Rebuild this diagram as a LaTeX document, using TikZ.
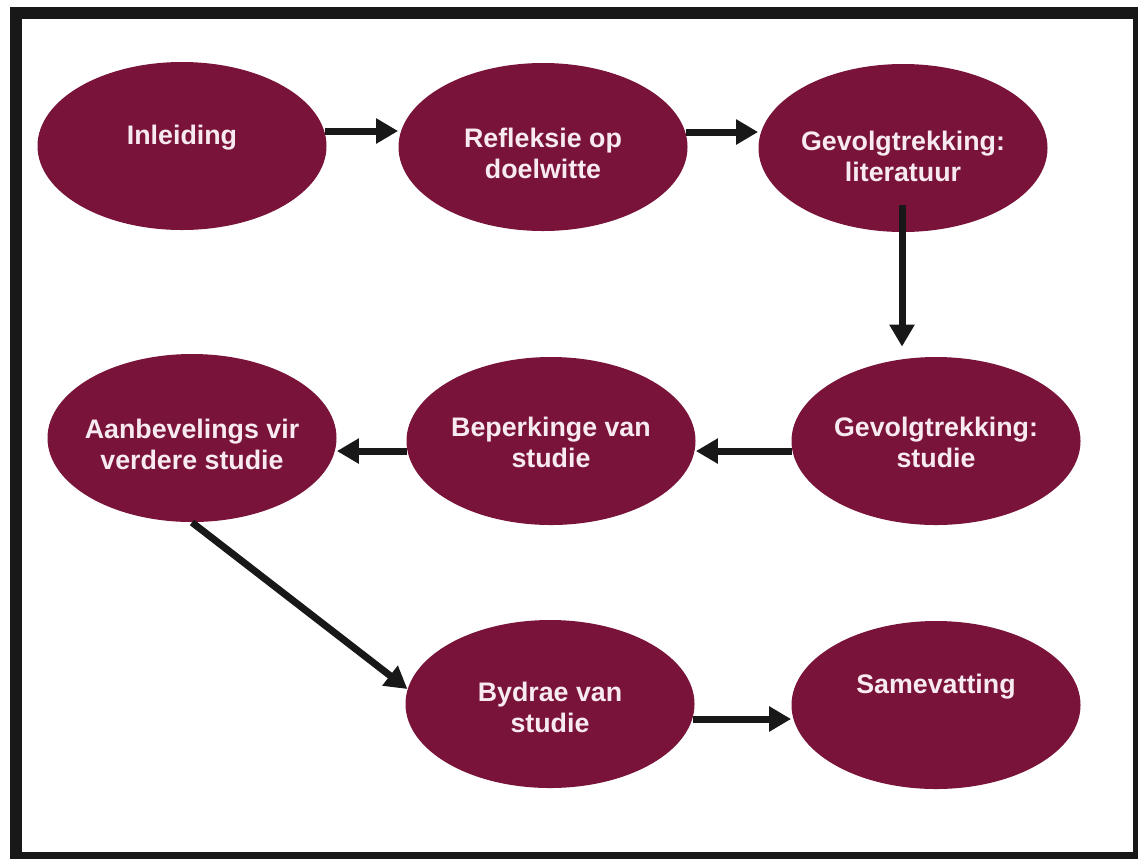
\documentclass[tikz,border=0pt]{standalone}
\usepackage{fontspec}
\setmainfont{Liberation Sans}
\usetikzlibrary{shapes.geometric,arrows.meta,calc}
\definecolor{maroon}{RGB}{122,19,58}
\definecolor{framegray}{RGB}{24,24,24}
\definecolor{paletext}{RGB}{247,234,240}
\tikzset{
  blob/.style={ellipse, fill=maroon, draw=none, inner sep=0pt,
    minimum width=144.5pt, minimum height=84pt},
  lbl/.style={text=paletext, align=center, inner sep=0pt,
    font=\fontsize{13.4}{15.5}\selectfont\bfseries},
  arr/.style={draw=framegray, line width=3.5pt,
    -{Triangle[length=11pt,width=12pt]}},
}
\begin{document}
\begin{tikzpicture}[x=0.5pt,y=-0.5pt]
\useasboundingbox (0,0) rectangle (1138,858);
\fill[white] (0,0) rectangle (1138,858);
% outer frame
\draw[framegray, line width=6pt] (15.5,13) rectangle (1139,858);

% ellipses, top row
\node[blob] (n1) at (182,146) {};
\node[blob] (n2) at (543,147) {};
\node[blob] (n3) at (903,148) {};
% middle row
\node[blob] (n6) at (192,438) {};
\node[blob] (n5) at (551,441) {};
\node[blob] (n4) at (936,441) {};
% bottom row
\node[blob] (n7) at (550,704) {};
\node[blob] (n8) at (936,705) {};

% captions
\node[lbl] (t1) at ($(n1)+(0,-8)$) {Inleiding};
\node[lbl] (t2) at ($(n2)+(0,6)$) {Refleksie op\\doelwitte};
\node[lbl] (t3) at ($(n3)+(0,8)$) {Gevolgtrekking:\\literatuur};
\node[lbl] (t4) at ($(n4)+(0,1)$) {Gevolgtrekking:\\studie};
\node[lbl] (t5) at ($(n5)+(0,1)$) {Beperkinge van\\studie};
\node[lbl] (t6) at ($(n6)+(0,6)$) {Aanbevelings vir\\verdere studie};
\node[lbl] (t7) at ($(n7)+(0,3)$) {Bydrae van\\studie};
\node[lbl] (t8) at ($(n8)+(0,-18)$) {Samevatting};

% connectors (horizontal ones stay level)
\draw[arr] (n1.6) -- (n1.6 -| n2.west);
\draw[arr] (n2.6) -- (n2.6 -| n3.west);
\draw[arr] ($(n3.center)+(-1,57)$) -- ($(n4.north)+(-34,-10)$);
\draw[arr] (n4.184) -- (n4.184 -| n5.east);
\draw[arr] (n5.184) -- (n5.184 -| n6.east);
\draw[arr] (n6.south) -- (n7.174);
\draw[arr] (n7.354) -- (n7.354 -| n8.west);
\end{tikzpicture}
\end{document}
